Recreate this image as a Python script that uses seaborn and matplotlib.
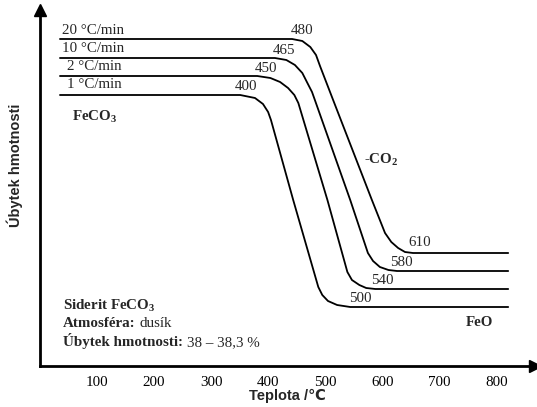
import matplotlib
matplotlib.use("Agg")
import matplotlib.pyplot as plt
import seaborn as sns
import pandas as pd

# heating rates and the curve points (temperature / mass level)
rates = ["20 °C/min", "10 °C/min", "2 °C/min", "1 °C/min"]
temps_20 = [35, 442, 460, 474, 484, 491, 514, 582, 605, 616, 628, 640, 654, 821]
mass_20 = [327, 327, 325, 319, 311, 300, 266, 166, 133, 124, 118, 114, 113, 113]
temps_10 = [35, 412, 432, 447, 460, 468, 477, 482, 544, 575, 584, 596, 611, 626, 821]
mass_10 = [308, 308, 306, 301, 293, 284, 274, 266, 166, 113, 105, 99, 96, 95, 95]
temps_2 = [35, 381, 404, 421, 435, 446, 453, 504, 539, 547, 560, 572, 588, 821]
mass_2 = [290, 290, 288, 284, 278, 271, 263, 166, 94, 86, 81, 78, 77, 77]
temps_1 = [35, 351, 377, 391, 400, 405, 444, 488, 495, 505, 521, 544, 821]
mass_1 = [271, 271, 268, 262, 254, 246, 166, 79, 71, 65, 61, 59, 59]

# characteristic temperatures (start / end of decomposition)
onset = [480, 465, 450, 400]
endset = [610, 580, 540, 500]
xticks = [100, 200, 300, 400, 500, 600, 700, 800]

frames = []
for r, t, m in zip(rates, [temps_20, temps_10, temps_2, temps_1],
                   [mass_20, mass_10, mass_2, mass_1]):
    frames.append(pd.DataFrame({"T": t, "m": m, "rate": r}))
df = pd.concat(frames, ignore_index=True)

sns.set_style("white")
plt.rcParams["font.family"] = ["Liberation Serif", "DejaVu Serif"]
plt.rcParams["mathtext.fontset"] = "custom"
plt.rcParams["mathtext.rm"] = "Liberation Serif"
plt.rcParams["mathtext.bf"] = "Liberation Serif:bold"

W, H = 537, 407
fig = plt.figure(figsize=(W / 100, H / 100), dpi=100)
ax = fig.add_axes([40 / W, (H - 366) / H, (535 - 40) / W, (366 - 10) / H])

sns.lineplot(data=df, x="T", y="m", hue="rate", palette=["black"] * 4,
             estimator=None, sort=False, linewidth=1.3, legend=False, ax=ax)

ax.set_xlim(0, 868)
ax.set_ylim(0, 356)
for s in ["top", "right"]:
    ax.spines[s].set_visible(False)
for s in ["left", "bottom"]:
    ax.spines[s].set_linewidth(2)
    ax.spines[s].set_color("black")
ax.plot(1, 0, ">", color="black", markersize=8, transform=ax.transAxes, clip_on=False)
ax.plot(0, 1, "^", color="black", markersize=8, transform=ax.transAxes, clip_on=False)

fs = 10.8
ax.set_xticks(xticks)
ax.set_yticks([])
ax.tick_params(axis="x", direction="in", length=6, width=1.5, pad=7, labelsize=fs,
               colors="black")
ax.set_xlabel("")
ax.set_ylabel("")

# rate labels above the plateaus
rate_y = [335, 317, 299, 281]
rate_x = [38, 38, 48, 48]
for r, x, y in zip(rates, rate_x, rate_y):
    ax.text(x, y, r, fontsize=fs, ha="left", va="center")

# onset / endset labels
on_pos = [(460, 335), (428, 316), (396, 298), (362, 279)]
for v, (x, y) in zip(onset, on_pos):
    ax.text(x, y, str(v), fontsize=fs, ha="center", va="center")
end_pos = [(665, 123), (634, 103), (600, 86), (562, 68)]
for v, (x, y) in zip(endset, end_pos):
    ax.text(x, y, str(v), fontsize=fs, ha="center", va="center")

ax.text(56, 249, r"FeCO$_\mathbf{3}$", fontsize=fs, fontweight="bold", ha="left", va="center")
ax.text(569, 206, r"-CO$_\mathbf{2}$", fontsize=fs, fontweight="bold", ha="left", va="center")
ax.text(746, 43, "FeO", fontsize=fs, fontweight="bold", ha="left", va="center")

ax.text(40, 60, r"Siderit FeCO$_\mathbf{3}$", fontsize=fs, fontweight="bold",
        ha="left", va="center")
t1 = ax.text(40, 39, "Atmosféra:", fontsize=fs, fontweight="bold", ha="left", va="baseline")
ax.annotate("dusík", xy=(1, 0), xycoords=t1, xytext=(3, 0), textcoords="offset points",
            fontsize=fs, ha="left", va="bottom")
t2 = ax.text(40, 20, "Úbytek hmotnosti:", fontsize=fs, fontweight="bold", ha="left",
             va="baseline")
ax.annotate("38 – 38,3 %", xy=(1, 0), xycoords=t2, xytext=(3, 0), textcoords="offset points",
            fontsize=fs, ha="left", va="bottom")

sans = ["Liberation Sans", "DejaVu Sans"]
fig.text(15 / W, 1 - 165 / H, "Úbytek hmotnosti", rotation=90, fontsize=10.5,
         fontweight="bold", family=sans, ha="center", va="center")
fig.text(287 / W, 1 - 396 / H, "Teplota /℃", fontsize=10.5, fontweight="bold",
         family=sans, ha="center", va="center")

fig.savefig("out.png", dpi=100)
